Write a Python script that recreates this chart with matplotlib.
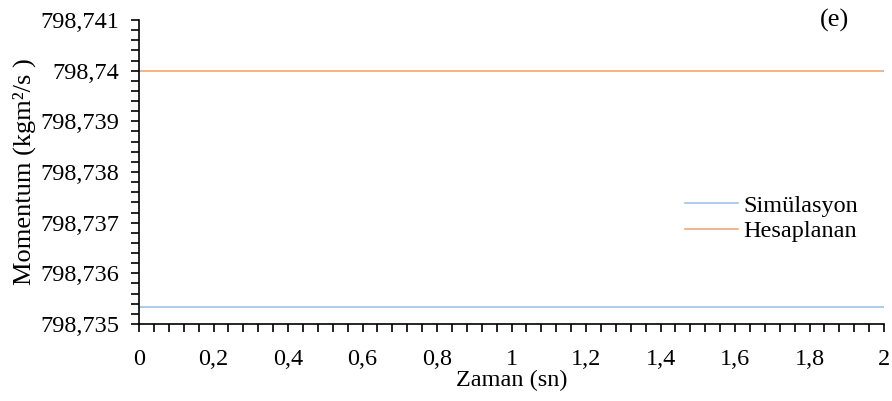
import matplotlib.pyplot as plt
from matplotlib.ticker import MultipleLocator, FuncFormatter

plt.rcParams['font.family'] = ['Liberation Serif', 'DejaVu Serif']

zaman = [0, 2]
simulasyon = [798.73534, 798.73534]
hesaplanan = [798.74, 798.74]

fig = plt.figure(figsize=(8.92, 4.01), dpi=100)
ax = fig.add_axes([139 / 892, 1 - 324 / 401, 745 / 892, 304 / 401])

ax.plot(zaman, simulasyon, color='#9dc3e6', lw=1.2, label='Simülasyon')
ax.plot(zaman, hesaplanan, color='#f4a672', lw=1.2, label='Hesaplanan')

ax.set_xlim(0, 2)
ax.set_ylim(798.735, 798.741)
ax.xaxis.set_major_locator(MultipleLocator(0.2))
ax.xaxis.set_minor_locator(MultipleLocator(0.04))
ax.yaxis.set_major_locator(MultipleLocator(0.001))
ax.yaxis.set_minor_locator(MultipleLocator(0.0002))


def virgul(v, pos, nd):
    s = f"{v:.{nd}f}".rstrip('0').rstrip('.')
    return s.replace('.', ',')


ax.xaxis.set_major_formatter(FuncFormatter(lambda v, p: virgul(v, p, 2)))
ax.yaxis.set_major_formatter(FuncFormatter(lambda v, p: virgul(v, p, 3)))

for s in ['top', 'right']:
    ax.spines[s].set_visible(False)
for s in ['left', 'bottom']:
    ax.spines[s].set_linewidth(1.2)
    ax.spines[s].set_color('black')

ax.tick_params(axis='both', which='both', direction='out', width=1.2, colors='black')
ax.tick_params(axis='both', which='major', length=6, labelsize=17.5)
ax.tick_params(axis='both', which='minor', length=6)
ax.tick_params(axis='x', pad=12)
ax.tick_params(axis='y', pad=8)

ax.set_xlabel('Zaman (sn)', fontsize=17.5, labelpad=0)
ax.set_ylabel('Momentum (kgm²/s )', fontsize=19, labelpad=3)

ax.legend(loc='upper left', bbox_to_anchor=(0.717, 0.465), frameon=False, fontsize=17.5,
          handlelength=2.15, handletextpad=0.22, labelspacing=0.15, borderpad=0)
ax.text(0.933, 1.0, '(e)', transform=ax.transAxes, fontsize=19, ha='center', va='center')

fig.savefig('out.png', dpi=100)
